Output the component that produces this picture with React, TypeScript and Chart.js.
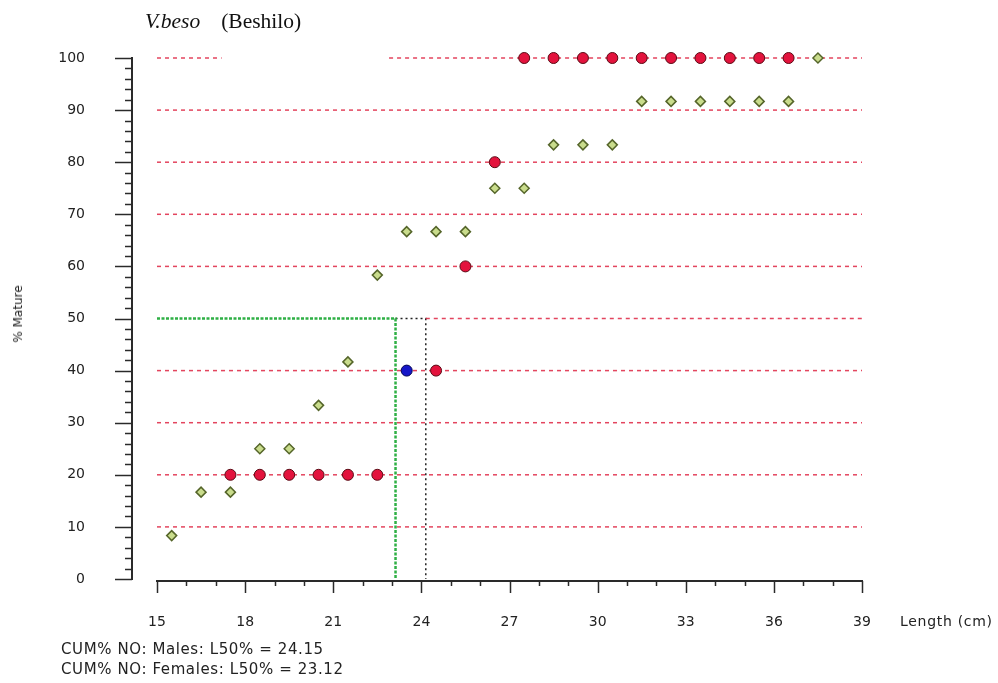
import React, { useEffect, useRef } from 'react';
import { Chart, registerables } from 'chart.js';

Chart.register(...registerables);

// ---- axis ranges & ticks ----
const X_MIN = 15;
const X_MAX = 39;
const X_MAJOR_STEP = 3;
const X_MINOR_STEP = 1;
const Y_MIN = 0;
const Y_MAX = 100;
const Y_MAJOR_STEP = 10;
const Y_MINOR_STEP = 2;

// ---- data ----
const maleX = [17.5, 18.5, 19.5, 20.5, 21.5, 22.5, 24.5, 25.5, 26.5, 27.5, 28.5, 29.5, 30.5, 31.5, 32.5, 33.5, 34.5, 35.5, 36.5];
const maleY = [20, 20, 20, 20, 20, 20, 40, 60, 80, 100, 100, 100, 100, 100, 100, 100, 100, 100, 100];

const femaleX = [15.5, 16.5, 17.5, 18.5, 19.5, 20.5, 21.5, 22.5, 23.5, 24.5, 25.5, 26.5, 27.5, 28.5, 29.5, 30.5, 31.5, 32.5, 33.5, 34.5, 35.5, 36.5, 37.5];
const femaleY = [8.33, 16.67, 16.67, 25, 25, 33.33, 41.67, 58.33, 66.67, 66.67, 66.67, 75, 75, 83.33, 83.33, 83.33, 91.67, 91.67, 91.67, 91.67, 91.67, 91.67, 100];

const blueX = [23.5];
const blueY = [40];

// reference lines
const refLevels = [10, 20, 30, 40, 60, 70, 80, 90];
const topLevel = 100;
const topSegStarts = [15, 22.9];
const topSegEnds = [17.2, 39];
const l50Level = 50;
const maleL50 = 24.15;
const femaleL50 = 23.12;

const TICK_FONT = { family: 'DejaVu Sans', size: 14 };
const RED_DASH = 'rgba(222,36,66,0.85)';

const pts = (xs: number[], ys: number[]) => xs.map((x, i) => ({ x, y: ys[i] }));

const lineDs = (data: { x: number; y: number }[], color: string, dash: number[], width: number) => ({
  type: 'scatter',
  data,
  showLine: true,
  borderColor: color,
  backgroundColor: color,
  borderWidth: width,
  borderDash: dash,
  pointRadius: 0,
  pointHoverRadius: 0,
  tension: 0,
  fill: false,
  order: 10,
  clip: false,
});

const axesPlugin = {
  id: 'customAxes',
  afterDraw(chart: any) {
    const { ctx, chartArea, scales } = chart;
    const x = scales.x;
    const y = scales.y;
    ctx.save();
    ctx.strokeStyle = '#2a2a2a';
    // y axis
    const axX = Math.round(chartArea.left - 25);
    ctx.lineWidth = 2;
    ctx.beginPath();
    ctx.moveTo(axX, y.getPixelForValue(Y_MIN) + 1);
    ctx.lineTo(axX, y.getPixelForValue(Y_MAX) - 1);
    ctx.stroke();
    ctx.lineWidth = 1.5;
    for (let v = Y_MIN; v <= Y_MAX + 0.001; v += Y_MINOR_STEP) {
      const py = Math.round(y.getPixelForValue(v)) + 0.5;
      const len = v % Y_MAJOR_STEP === 0 ? 17 : 7;
      ctx.beginPath();
      ctx.moveTo(axX - len, py);
      ctx.lineTo(axX, py);
      ctx.stroke();
    }
    // x axis
    const axY = Math.round(chartArea.bottom + 2);
    ctx.lineWidth = 2;
    ctx.beginPath();
    ctx.moveTo(x.getPixelForValue(X_MIN) - 1, axY);
    ctx.lineTo(x.getPixelForValue(X_MAX) + 1, axY);
    ctx.stroke();
    ctx.lineWidth = 1.5;
    for (let v = X_MIN; v <= X_MAX + 0.001; v += X_MINOR_STEP) {
      const px = Math.round(x.getPixelForValue(v)) + 0.5;
      const len = (v - X_MIN) % X_MAJOR_STEP === 0 ? 12 : 5;
      ctx.beginPath();
      ctx.moveTo(px, axY);
      ctx.lineTo(px, axY + len);
      ctx.stroke();
    }
    ctx.restore();
  },
};

export default function App() {
  const canvasRef = useRef<HTMLCanvasElement | null>(null);

  useEffect(() => {
    if (!canvasRef.current) return;
    const datasets: any[] = [
      {
        label: 'Males',
        data: pts(maleX, maleY),
        pointStyle: 'circle',
        pointRadius: 5.5,
        pointBackgroundColor: '#e3133d',
        pointBorderColor: '#5a0a14',
        pointBorderWidth: 1,
        order: 1,
        clip: false,
      },
      {
        label: 'Females',
        data: pts(femaleX, femaleY),
        pointStyle: 'rectRot',
        pointRadius: 5,
        pointBackgroundColor: '#c9dc8c',
        pointBorderColor: '#55652a',
        pointBorderWidth: 1.5,
        order: 2,
        clip: false,
      },
      {
        label: 'Other',
        data: pts(blueX, blueY),
        pointStyle: 'circle',
        pointRadius: 5.5,
        pointBackgroundColor: '#1616c8',
        pointBorderColor: '#000050',
        pointBorderWidth: 1,
        order: 0,
        clip: false,
      },
    ];
    refLevels.forEach((lv) => {
      datasets.push(lineDs([{ x: X_MIN, y: lv }, { x: X_MAX, y: lv }], RED_DASH, [4, 4], 1.5));
    });
    topSegStarts.forEach((s, i) => {
      datasets.push(lineDs([{ x: s, y: topLevel }, { x: topSegEnds[i], y: topLevel }], RED_DASH, [4, 4], 1.5));
    });
    datasets.push(lineDs([{ x: maleL50, y: l50Level }, { x: X_MAX, y: l50Level }], RED_DASH, [4, 4], 1.5));
    datasets.push(
      lineDs(
        [{ x: X_MIN, y: l50Level }, { x: femaleL50, y: l50Level }, { x: femaleL50, y: Y_MIN }],
        '#2fb045',
        [3, 1.5],
        2.5
      )
    );
    datasets.push(
      lineDs(
        [{ x: femaleL50, y: l50Level }, { x: maleL50, y: l50Level }, { x: maleL50, y: Y_MIN }],
        '#222222',
        [2, 3],
        1.5
      )
    );

    const chart = new Chart(canvasRef.current, {
      type: 'scatter',
      data: { datasets },
      options: {
        responsive: false,
        animation: false,
        events: [],
        layout: { padding: { left: 0, top: 58, right: 136, bottom: 0 } },
        plugins: { legend: { display: false }, tooltip: { enabled: false }, title: { display: false } },
        scales: {
          x: {
            type: 'linear',
            min: X_MIN,
            max: X_MAX,
            border: { display: false },
            grid: { display: false, drawTicks: false },
            ticks: { stepSize: X_MAJOR_STEP, padding: 35, color: '#222', font: TICK_FONT, maxRotation: 0, autoSkip: false },
            afterFit: (s: any) => {
              s.height = 104;
              s.paddingLeft = 0;
              s.paddingRight = 0;
            },
          },
          y: {
            type: 'linear',
            min: Y_MIN,
            max: Y_MAX,
            border: { display: false },
            grid: { display: false, drawTicks: false },
            ticks: { stepSize: Y_MAJOR_STEP, padding: 72, color: '#222', font: TICK_FONT, autoSkip: false },
            afterFit: (s: any) => {
              s.width = 157;
              s.paddingTop = 0;
              s.paddingBottom = 0;
            },
          },
        },
      },
      plugins: [axesPlugin],
    } as any);
    return () => chart.destroy();
  }, []);

  const sans = "'DejaVu Sans', sans-serif";
  return (
    <div style={{ position: 'fixed', left: 0, top: 0, width: 998, height: 683, background: '#fff', overflow: 'hidden' }}>
      <canvas ref={canvasRef} width={998} height={683} style={{ position: 'absolute', left: 0, top: 0 }} />
      <div
        style={{
          position: 'absolute',
          left: 145,
          top: 7,
          fontFamily: "'Liberation Serif', serif",
          fontSize: 21.5,
          lineHeight: '28px',
          color: '#111',
          whiteSpace: 'nowrap',
        }}
      >
        <span style={{ fontStyle: 'italic' }}>V.beso</span>
        <span style={{ marginLeft: 21 }}>(Beshilo)</span>
      </div>
      <div
        style={{
          position: 'absolute',
          left: 18,
          top: 314,
          transform: 'translate(-50%, -50%) rotate(-90deg)',
          fontFamily: sans,
          fontSize: 12,
          color: '#222',
          whiteSpace: 'nowrap',
        }}
      >
        % Mature
      </div>
      <div
        style={{
          position: 'absolute',
          left: 900,
          top: 611,
          fontFamily: sans,
          fontSize: 14,
          letterSpacing: 0.7,
          lineHeight: '20px',
          color: '#222',
          whiteSpace: 'nowrap',
        }}
      >
        Length (cm)
      </div>
      <div
        style={{
          position: 'absolute',
          left: 61,
          top: 639,
          fontFamily: sans,
          fontSize: 15,
          letterSpacing: 0.6,
          lineHeight: '20px',
          color: '#222',
          whiteSpace: 'nowrap',
        }}
      >
        <div>CUM% NO: Males: L50% = 24.15</div>
        <div>CUM% NO: Females: L50% = 23.12</div>
      </div>
    </div>
  );
}
